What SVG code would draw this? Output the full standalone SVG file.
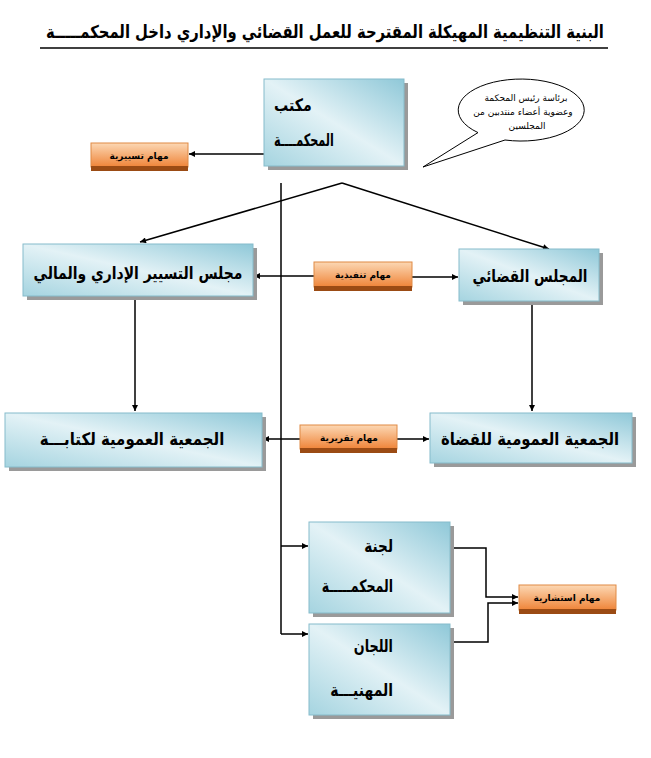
<svg xmlns="http://www.w3.org/2000/svg" width="651" height="758" viewBox="0 0 651 758">
<defs>
<linearGradient id="blue" x1="1" y1="0" x2="0" y2="1">
<stop offset="0" stop-color="#8fc8d8"/>
<stop offset="0.5" stop-color="#e3f2f6"/>
<stop offset="1" stop-color="#a5d4e0"/>
</linearGradient>
<linearGradient id="orange" x1="0" y1="0" x2="0" y2="1">
<stop offset="0" stop-color="#fcd8b4"/>
<stop offset="1" stop-color="#ef8438"/>
</linearGradient>
<marker id="arr" viewBox="0 0 10 10" refX="10" refY="5" markerWidth="8" markerHeight="6" markerUnits="userSpaceOnUse" orient="auto">
<path d="M0,0 L10,5 L0,10 z" fill="#000"/>
</marker>
</defs>
<style>
.shadow{fill:#9a9a9a}
.box{fill:url(#blue);stroke:#86bccb;stroke-width:1}
.ob{fill:url(#orange);stroke:#e08a44;stroke-width:1}
.os{fill:#9b4b14}
.t{font-family:"DejaVu Sans",sans-serif;font-weight:bold;font-size:17px;fill:#000}
.ot{font-family:"DejaVu Sans",sans-serif;font-weight:bold;font-size:9px;fill:#000;text-anchor:middle}
.ct{font-family:"DejaVu Sans",sans-serif;font-size:9px;fill:#000;text-anchor:middle}
.ln{stroke:#000;stroke-width:1.5;fill:none}
.la{stroke:#000;stroke-width:1.5;fill:none;marker-end:url(#arr)}
</style>
<rect width="651" height="758" fill="#fff"/>

<g id="title">
<text class="t" transform="translate(325,38) scale(0.87,1.05)" x="0" y="0" text-anchor="middle">البنية التنظيمية المهيكلة المقترحة للعمل القضائي والإداري داخل المحكمـــــة</text>
<line x1="40" y1="48" x2="608" y2="48" stroke="#000" stroke-width="1.5"/>
</g>

<g id="connectors">
<line class="la" x1="264" y1="154" x2="189" y2="154"/>
<line class="ln" x1="281" y1="183" x2="281" y2="634"/>
<line class="la" x1="281" y1="546" x2="308" y2="546"/>
<line class="la" x1="281" y1="634" x2="308" y2="634"/>
<line class="la" x1="342" y1="183" x2="140" y2="242"/>
<line class="la" x1="342" y1="183" x2="549" y2="249"/>
<line class="la" x1="314" y1="276" x2="254" y2="276"/>
<line class="la" x1="412" y1="277" x2="458" y2="277"/>
<line class="la" x1="135" y1="298" x2="135" y2="411"/>
<line class="la" x1="532" y1="303" x2="532" y2="411"/>
<line class="la" x1="300" y1="439" x2="263" y2="439"/>
<line class="la" x1="397" y1="439" x2="429" y2="439"/>
<polyline class="la" points="451,548 486,548 486,597 518,597"/>
<polyline class="la" points="451,642 488,642 488,603 518,603"/>
</g>

<g id="callout">
<path d="M505,140 A63,31 0 1 0 478,132.6 L423,167 Z" fill="#fff" stroke="#000" stroke-width="1"/>
<text class="ct" x="526" y="101">برئاسة رئيس المحكمة</text>
<text class="ct" x="523" y="115">وعضوية أعضاء منتدبين من</text>
<text class="ct" x="527" y="129">المجلسين</text>
</g>

<g id="office">
<rect class="shadow" x="268" y="83" width="140" height="87"/>
<rect class="box" x="264" y="79" width="140" height="87"/>
<text class="t" transform="translate(274,111) scale(0.83,1)" x="0" y="0" text-anchor="start">مكتب</text>
<text class="t" transform="translate(274,146) scale(0.66,1)" x="0" y="0" text-anchor="start">المحكمــــة</text>
</g>

<g id="task-management">
<rect class="ob" x="91" y="143" width="97" height="24"/>
<rect class="os" x="91" y="166" width="97" height="5"/>
<text class="ot" x="139" y="159">مهام تسييرية</text>
</g>

<g id="admin-council">
<rect class="shadow" x="27" y="248" width="230" height="52"/>
<rect class="box" x="23" y="244" width="230" height="52"/>
<text class="t" transform="translate(138,279) scale(0.82,1)" x="0" y="0" text-anchor="middle">مجلس التسيير الإداري والمالي</text>
</g>

<g id="task-exec">
<rect class="ob" x="314" y="262" width="98" height="25"/>
<rect class="os" x="314" y="286" width="98" height="5"/>
<text class="ot" x="363" y="278">مهام تنفيذية</text>
</g>

<g id="judicial-council">
<rect class="shadow" x="463" y="253" width="140" height="52"/>
<rect class="box" x="459" y="249" width="140" height="52"/>
<text class="t" transform="translate(530,282) scale(0.8,1)" x="0" y="0" text-anchor="middle">المجلس القضائي</text>
</g>

<g id="clerks-assembly">
<rect class="shadow" x="9" y="417" width="257" height="54"/>
<rect class="box" x="5" y="413" width="257" height="54"/>
<text class="t" transform="translate(132,445) scale(0.88,1)" x="0" y="0" text-anchor="middle">الجمعية العمومية لكتابـــة</text>
</g>

<g id="task-report">
<rect class="ob" x="300" y="425" width="97" height="24"/>
<rect class="os" x="300" y="448" width="97" height="5"/>
<text class="ot" x="349" y="441">مهام تقريرية</text>
</g>

<g id="judges-assembly">
<rect class="shadow" x="434" y="417" width="202" height="50"/>
<rect class="box" x="430" y="413" width="202" height="50"/>
<text class="t" transform="translate(530,445) scale(0.87,1)" x="0" y="0" text-anchor="middle">الجمعية العمومية للقضاة</text>
</g>

<g id="court-committee">
<rect class="shadow" x="313" y="526" width="141" height="91"/>
<rect class="box" x="309" y="522" width="141" height="91"/>
<text class="t" transform="translate(393,552) scale(0.8,1)" x="0" y="0" text-anchor="end">لجنة</text>
<text class="t" transform="translate(393,592) scale(0.74,1)" x="0" y="0" text-anchor="end">المحكمـــــة</text>
</g>

<g id="professional-committees">
<rect class="shadow" x="313" y="628" width="141" height="91"/>
<rect class="box" x="309" y="624" width="141" height="91"/>
<text class="t" transform="translate(393,652) scale(0.75,1)" x="0" y="0" text-anchor="end">اللجان</text>
<text class="t" transform="translate(393,696) scale(0.82,1)" x="0" y="0" text-anchor="end">المهنيـــة</text>
</g>

<g id="task-advisory">
<rect class="ob" x="519" y="585" width="97" height="25"/>
<rect class="os" x="519" y="609" width="97" height="5"/>
<text class="ot" x="567" y="601">مهام استشارية</text>
</g>
</svg>
